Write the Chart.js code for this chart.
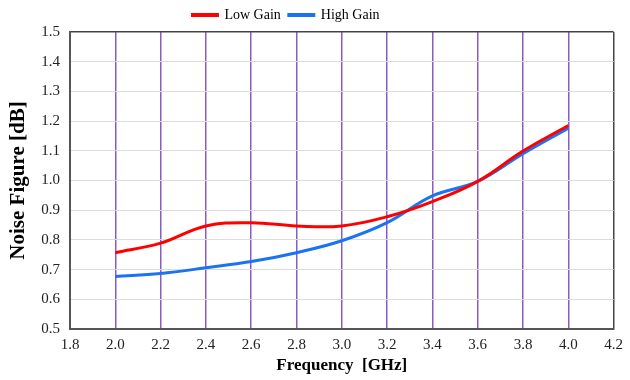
<!DOCTYPE html>
<html>
<head>
<meta charset="utf-8">
<script src="https://cdn.jsdelivr.net/npm/chart.js@4.4.1/dist/chart.umd.min.js"></script>
<style>
  html, body { margin: 0; padding: 0; background: #fff; }
  #wrap { width: 630px; height: 380px; }
</style>
</head>
<body>
<div id="wrap"><canvas id="nfChart" width="630" height="380"></canvas></div>
<script>
const freqs = [2.0, 2.2, 2.4, 2.6, 2.8, 3.0, 3.2, 3.4, 3.6, 3.8, 4.0];
const lowGain = [0.757, 0.789, 0.847, 0.858, 0.847, 0.847, 0.878, 0.929, 0.997, 1.099, 1.185];
const highGain = [0.677, 0.687, 0.706, 0.727, 0.757, 0.797, 0.858, 0.948, 0.997, 1.09, 1.176];
const seriesNames = ['Low Gain', 'High Gain'];

const serif = "'Liberation Serif', 'Times New Roman', serif";

function toPoints(vals) {
  return freqs.map((f, i) => ({ x: f, y: vals[i] }));
}

// nudge the centred legend a bit to the left like the original
const legendShift = {
  id: 'legendShift',
  afterLayout(chart) {
    chart.legend.right -= 48;
  }
};

const ctx = document.getElementById('nfChart').getContext('2d');
new Chart(ctx, {
  type: 'line',
  data: {
    datasets: [
      {
        label: seriesNames[0],
        data: toPoints(lowGain),
        borderColor: '#ff0000',
        backgroundColor: '#ff0000',
        borderWidth: 3,
        pointRadius: 0,
        tension: 0.4
      },
      {
        label: seriesNames[1],
        data: toPoints(highGain),
        borderColor: '#1a73f5',
        backgroundColor: '#1a73f5',
        borderWidth: 3,
        pointRadius: 0,
        tension: 0.4
      }
    ]
  },
  options: {
    responsive: false,
    animation: false,
    layout: { padding: { left: 0, right: 10, top: 0, bottom: 4 } },
    plugins: {
      tooltip: { enabled: false },
      legend: {
        position: 'top',
        labels: {
          color: '#000',
          font: { family: serif, size: 14 },
          boxWidth: 25,
          boxHeight: 1,
          padding: 8
        }
      }
    },
    scales: {
      x: {
        type: 'linear',
        min: 1.8,
        max: 4.2,
        ticks: {
          stepSize: 0.2,
          color: '#222',
          font: { family: serif, size: 15 },
          padding: 7,
          callback: v => v.toFixed(1)
        },
        grid: {
          drawTicks: false,
          lineWidth: 1.5,
          color: c => {
            const k = Math.round(c.tick.value * 10);
            if (k === 42) return '#444';
            if (k >= 20 && k <= 40) return '#8a5cc2';
            return 'rgba(0,0,0,0)';
          }
        },
        border: { color: '#555', width: 2 },
        title: {
          display: true,
          text: 'Frequency  [GHz]',
          color: '#000',
          font: { family: serif, size: 17, weight: 'bold' },
          padding: { top: 1, bottom: 0 }
        },
        afterFit: s => { s.height = 47; }
      },
      y: {
        min: 0.5,
        max: 1.5,
        ticks: {
          stepSize: 0.1,
          color: '#222',
          font: { family: serif, size: 15 },
          padding: 10,
          callback: v => v.toFixed(1)
        },
        grid: {
          drawTicks: false,
          lineWidth: c => (Math.round(c.tick.value * 10) === 15 ? 1.5 : 1),
          color: c => (Math.round(c.tick.value * 10) === 15 ? '#444' : '#dcdcdc')
        },
        border: { color: '#555', width: 2 },
        title: {
          display: true,
          text: 'Noise Figure [dB]',
          color: '#000',
          font: { family: serif, size: 21, weight: 'bold' },
          padding: { top: 6, bottom: 4 }
        },
        afterFit: s => { s.width = 70; }
      }
    }
  },
  plugins: [legendShift]
});
</script>
</body>
</html>
